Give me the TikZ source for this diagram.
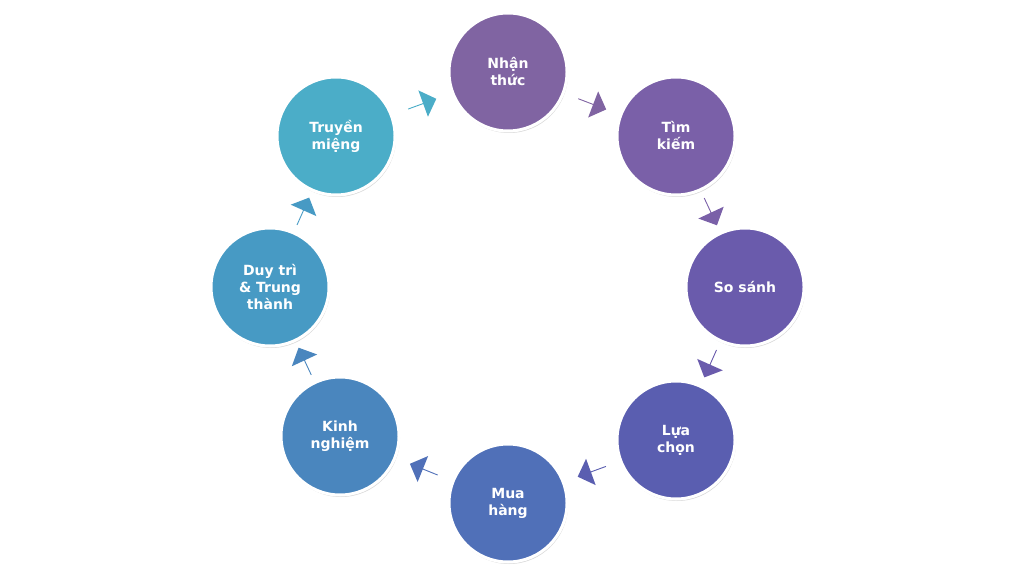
\documentclass[tikz,border=0pt]{standalone}
\usepackage{fontspec}
\setmainfont{DejaVu Sans}
\usetikzlibrary{shapes.arrows,calc,shadows}
\tikzset{
  stage/.style={circle,minimum size=118pt,inner sep=0pt,draw=white,line width=3pt,fill=#1,
    text=white,font=\bfseries\fontsize{14}{17}\selectfont,align=center,
    drop shadow={shadow xshift=1pt,shadow yshift=-2pt,opacity=0.3}},
  flow/.style={single arrow,single arrow head extend=6pt,minimum height=30pt,minimum width=28pt,inner sep=0pt,fill=#1,draw=none}
}
\definecolor{c1}{HTML}{8064A2}
\definecolor{c2}{HTML}{7A60A8}
\definecolor{c3}{HTML}{6A5BAC}
\definecolor{c4}{HTML}{5A5EB0}
\definecolor{c5}{HTML}{5070B8}
\definecolor{c6}{HTML}{4A86BE}
\definecolor{c7}{HTML}{479AC4}
\definecolor{c8}{HTML}{4BADC8}
\begin{document}
\begin{tikzpicture}[x=1pt,y=1pt]
\useasboundingbox (0,0) rectangle (1024,576);
\node[stage=c1] (n1) at (508,504) {Nhận\\thức};
\node[stage=c2] (n2) at (676,440) {Tìm\\kiếm};
\node[stage=c3] (n3) at (745,289) {So sánh};
\node[stage=c4] (n4) at (676,136) {Lựa\\chọn};
\node[stage=c5] (n5) at (508,73) {Mua\\hàng};
\node[stage=c6] (n6) at (340,140) {Kinh\\nghiệm};
\node[stage=c7] (n7) at (270,289) {Duy trì\\\& Trung\\thành};
\node[stage=c8] (n8) at (336,440) {Truyền\\miệng};
\node[flow=c1,rotate=-21] (a1) at ($(n1)!0.5!(n2)$) {};
\node[flow=c2,rotate=-65] (a2) at ($(n2)!0.5!(n3)$) {};
\node[flow=c3,rotate=-114] (a3) at ($(n3)!0.5!(n4)$) {};
\node[flow=c4,rotate=200] (a4) at ($(n4)!0.5!(n5)$) {};
\node[flow=c5,rotate=158] (a5) at ($(n5)!0.5!(n6)$) {};
\node[flow=c6,rotate=115] (a6) at ($(n6)!0.5!(n7)$) {};
\node[flow=c7,rotate=66] (a7) at ($(n7)!0.5!(n8)$) {};
\node[flow=c8,rotate=20] (a8) at ($(n8)!0.5!(n1)$) {};
\end{tikzpicture}
\end{document}
